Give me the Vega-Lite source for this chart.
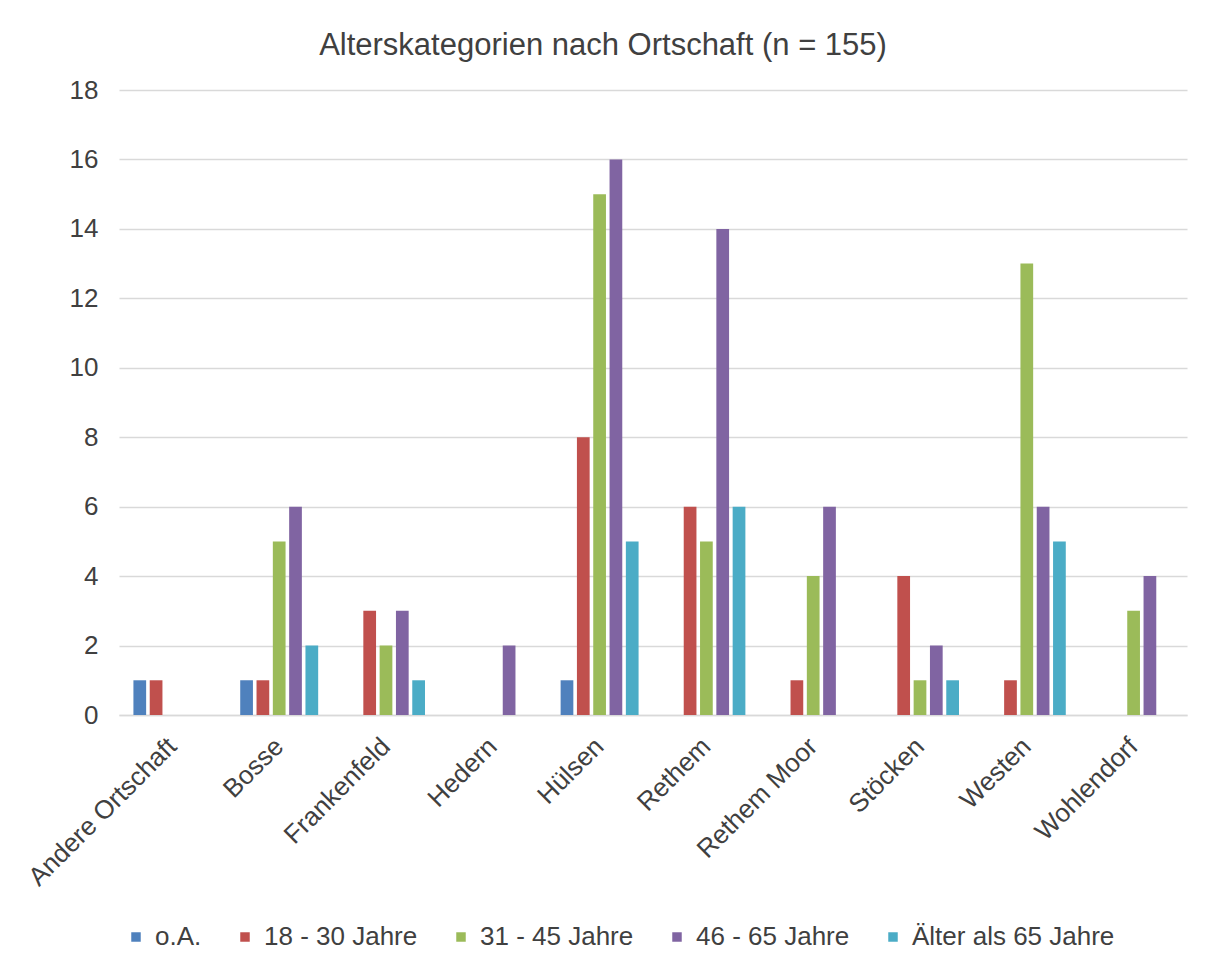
{
  "$schema": "https://vega.github.io/schema/vega-lite/v6.json",
  "autosize": "none",
  "width": 1068,
  "height": 625,
  "padding": {"left": 119, "top": 90, "right": 19, "bottom": 250},
  "background": "white",
  "title": {
    "text": "Alterskategorien nach Ortschaft (n = 155)",
    "font": "Liberation Sans",
    "fontSize": 31,
    "fontWeight": "normal",
    "color": "#404040",
    "anchor": "middle",
    "frame": "group",
    "dx": -50,
    "offset": 15
  },
  "data": {
    "values": [
      {"ort": "Andere Ortschaft", "alter": "o.A.", "n": 1},
      {"ort": "Andere Ortschaft", "alter": "18 - 30 Jahre", "n": 1},
      {"ort": "Bosse", "alter": "o.A.", "n": 1},
      {"ort": "Bosse", "alter": "18 - 30 Jahre", "n": 1},
      {"ort": "Bosse", "alter": "31 - 45 Jahre", "n": 5},
      {"ort": "Bosse", "alter": "46 - 65 Jahre", "n": 6},
      {"ort": "Bosse", "alter": "Älter als 65 Jahre", "n": 2},
      {"ort": "Frankenfeld", "alter": "18 - 30 Jahre", "n": 3},
      {"ort": "Frankenfeld", "alter": "31 - 45 Jahre", "n": 2},
      {"ort": "Frankenfeld", "alter": "46 - 65 Jahre", "n": 3},
      {"ort": "Frankenfeld", "alter": "Älter als 65 Jahre", "n": 1},
      {"ort": "Hedern", "alter": "46 - 65 Jahre", "n": 2},
      {"ort": "Hülsen", "alter": "o.A.", "n": 1},
      {"ort": "Hülsen", "alter": "18 - 30 Jahre", "n": 8},
      {"ort": "Hülsen", "alter": "31 - 45 Jahre", "n": 15},
      {"ort": "Hülsen", "alter": "46 - 65 Jahre", "n": 16},
      {"ort": "Hülsen", "alter": "Älter als 65 Jahre", "n": 5},
      {"ort": "Rethem", "alter": "18 - 30 Jahre", "n": 6},
      {"ort": "Rethem", "alter": "31 - 45 Jahre", "n": 5},
      {"ort": "Rethem", "alter": "46 - 65 Jahre", "n": 14},
      {"ort": "Rethem", "alter": "Älter als 65 Jahre", "n": 6},
      {"ort": "Rethem Moor", "alter": "18 - 30 Jahre", "n": 1},
      {"ort": "Rethem Moor", "alter": "31 - 45 Jahre", "n": 4},
      {"ort": "Rethem Moor", "alter": "46 - 65 Jahre", "n": 6},
      {"ort": "Stöcken", "alter": "18 - 30 Jahre", "n": 4},
      {"ort": "Stöcken", "alter": "31 - 45 Jahre", "n": 1},
      {"ort": "Stöcken", "alter": "46 - 65 Jahre", "n": 2},
      {"ort": "Stöcken", "alter": "Älter als 65 Jahre", "n": 1},
      {"ort": "Westen", "alter": "18 - 30 Jahre", "n": 1},
      {"ort": "Westen", "alter": "31 - 45 Jahre", "n": 13},
      {"ort": "Westen", "alter": "46 - 65 Jahre", "n": 6},
      {"ort": "Westen", "alter": "Älter als 65 Jahre", "n": 5},
      {"ort": "Wohlendorf", "alter": "31 - 45 Jahre", "n": 3},
      {"ort": "Wohlendorf", "alter": "46 - 65 Jahre", "n": 4}
    ]
  },
  "mark": {"type": "bar"},
  "encoding": {
    "x": {
      "field": "ort",
      "type": "nominal",
      "sort": ["Andere Ortschaft", "Bosse", "Frankenfeld", "Hedern", "Hülsen", "Rethem", "Rethem Moor", "Stöcken", "Westen", "Wohlendorf"],
      "scale": {"paddingInner": 0.27, "paddingOuter": 0.135},
      "axis": {
        "title": null,
        "labelAngle": -45,
        "labelAlign": "right",
        "labelBaseline": "middle",
        "labelPadding": 27,
        "labelFont": "Liberation Sans",
        "labelFontSize": 26,
        "labelColor": "#404040",
        "ticks": false,
        "domain": true,
        "domainColor": "#d9d9d9",
        "domainWidth": 1.5,
        "grid": false,
        "labelLimit": 400
      }
    },
    "xOffset": {
      "field": "alter",
      "type": "nominal",
      "scale": {
        "domain": ["o.A.", "18 - 30 Jahre", "31 - 45 Jahre", "46 - 65 Jahre", "Älter als 65 Jahre"],
        "paddingInner": 0.22,
        "paddingOuter": 0
      }
    },
    "y": {
      "field": "n",
      "type": "quantitative",
      "scale": {"domain": [0, 18], "nice": false},
      "axis": {
        "title": null,
        "values": [0, 2, 4, 6, 8, 10, 12, 14, 16, 18],
        "labelFont": "Liberation Sans",
        "labelFontSize": 26,
        "labelColor": "#404040",
        "labelPadding": 21,
        "ticks": false,
        "domain": false,
        "gridColor": "#d9d9d9",
        "gridWidth": 1.5
      }
    },
    "color": {
      "field": "alter",
      "type": "nominal",
      "scale": {
        "domain": ["o.A.", "18 - 30 Jahre", "31 - 45 Jahre", "46 - 65 Jahre", "Älter als 65 Jahre"],
        "range": ["#4F81BD", "#C0504D", "#9BBB59", "#8064A2", "#4BACC6"]
      },
      "legend": {
        "title": null,
        "orient": "none",
        "direction": "horizontal",
        "legendX": 4,
        "legendY": 834,
        "symbolType": "square",
        "symbolSize": 90,
        "symbolStrokeWidth": 0,
        "labelFont": "Liberation Sans",
        "labelFontSize": 26,
        "labelColor": "#404040",
        "labelOffset": 6,
        "columnPadding": 30,
        "labelLimit": 400
      }
    }
  },
  "config": {
    "view": {"stroke": null}
  }
}
